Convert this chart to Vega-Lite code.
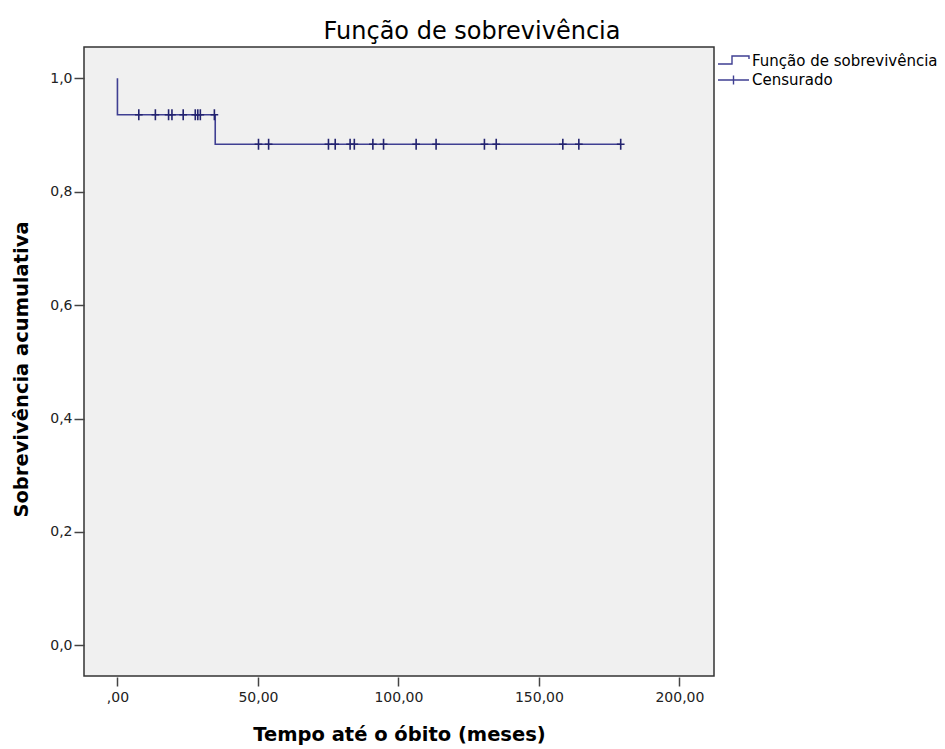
{
  "$schema": "https://vega.github.io/schema/vega-lite/v6.json",
  "autosize": {"type": "none"},
  "width": 630,
  "height": 629,
  "padding": {"left": 84, "top": 47, "right": 231, "bottom": 73},
  "background": "white",
  "config": {
    "font": "DejaVu Sans",
    "view": {"fill": "#f0f0f0", "stroke": "#333333", "strokeWidth": 1.5}
  },
  "title": {
    "text": "Função de sobrevivência",
    "font": "DejaVu Sans",
    "fontSize": 24,
    "fontWeight": "normal",
    "color": "#000000",
    "anchor": "middle",
    "frame": "group",
    "dx": 73,
    "baseline": "alphabetic",
    "offset": -16
  },
  "datasets": {
    "survival": [
      {"tempo": 0, "sobrevivencia": 1.0, "ordem": 0},
      {"tempo": 0, "sobrevivencia": 0.9355, "ordem": 1},
      {"tempo": 34.8, "sobrevivencia": 0.8835, "ordem": 2},
      {"tempo": 179.1, "sobrevivencia": 0.8835, "ordem": 3}
    ],
    "censored": [
      {"tempo": 7.6, "sobrevivencia": 0.9355},
      {"tempo": 13.5, "sobrevivencia": 0.9355},
      {"tempo": 18.2, "sobrevivencia": 0.9355},
      {"tempo": 19.4, "sobrevivencia": 0.9355},
      {"tempo": 23.4, "sobrevivencia": 0.9355},
      {"tempo": 27.7, "sobrevivencia": 0.9355},
      {"tempo": 28.6, "sobrevivencia": 0.9355},
      {"tempo": 29.5, "sobrevivencia": 0.9355},
      {"tempo": 34.5, "sobrevivencia": 0.9355},
      {"tempo": 50.2, "sobrevivencia": 0.8835},
      {"tempo": 53.8, "sobrevivencia": 0.8835},
      {"tempo": 75.1, "sobrevivencia": 0.8835},
      {"tempo": 77.5, "sobrevivencia": 0.8835},
      {"tempo": 82.8, "sobrevivencia": 0.8835},
      {"tempo": 84.3, "sobrevivencia": 0.8835},
      {"tempo": 90.9, "sobrevivencia": 0.8835},
      {"tempo": 94.7, "sobrevivencia": 0.8835},
      {"tempo": 106.3, "sobrevivencia": 0.8835},
      {"tempo": 113.4, "sobrevivencia": 0.8835},
      {"tempo": 130.6, "sobrevivencia": 0.8835},
      {"tempo": 134.8, "sobrevivencia": 0.8835},
      {"tempo": 158.5, "sobrevivencia": 0.8835},
      {"tempo": 164.2, "sobrevivencia": 0.8835},
      {"tempo": 179.1, "sobrevivencia": 0.8835}
    ],
    "legenda": [
      {"tempo": 0, "sobrevivencia": 1.0, "serie": "Função de sobrevivência"},
      {"tempo": 0, "sobrevivencia": 1.0, "serie": "Censurado"}
    ]
  },
  "encoding": {
    "x": {
      "field": "tempo",
      "type": "quantitative",
      "scale": {"domain": [-11.9, 212.3], "nice": false, "zero": false},
      "axis": {
        "title": "Tempo até o óbito (meses)",
        "values": [0, 50, 100, 150, 200],
        "labelExpr": "datum.value == 0 ? ',00' : replace(format(datum.value, '.2f'), '.', ',')",
        "grid": false,
        "domain": false,
        "offset": 1,
        "tickSize": 9,
        "tickWidth": 1.5,
        "tickColor": "#444444",
        "labelFont": "DejaVu Sans",
        "labelFontSize": 14,
        "labelColor": "#222222",
        "labelPadding": 4,
        "titleFont": "DejaVu Sans",
        "titleFontSize": 19.5,
        "titleFontWeight": "bold",
        "titleColor": "#000000",
        "titlePadding": 21
      }
    },
    "y": {
      "field": "sobrevivencia",
      "type": "quantitative",
      "scale": {"domain": [-0.054, 1.055], "nice": false, "zero": false},
      "axis": {
        "title": "Sobrevivência acumulativa",
        "values": [0, 0.2, 0.4, 0.6, 0.8, 1.0],
        "labelExpr": "replace(format(datum.value, '.1f'), '.', ',')",
        "grid": false,
        "domain": false,
        "tickSize": 10,
        "tickWidth": 1.5,
        "tickColor": "#444444",
        "labelFont": "DejaVu Sans",
        "labelFontSize": 14,
        "labelColor": "#222222",
        "labelPadding": 2,
        "titleFont": "DejaVu Sans",
        "titleFontSize": 19.5,
        "titleFontWeight": "bold",
        "titleColor": "#000000",
        "titlePadding": 18,
        "titleY": 322
      }
    }
  },
  "layer": [
    {
      "data": {"name": "survival"},
      "mark": {"type": "line", "interpolate": "step-after", "color": "#3f3f92", "strokeWidth": 1.6},
      "encoding": {
        "order": {"field": "ordem", "type": "quantitative"}
      }
    },
    {
      "data": {"name": "censored"},
      "mark": {"type": "point", "filled": false, "strokeWidth": 1.6, "color": "#23236f", "opacity": 1, "size": 121, "shape": "M-0.7,0H0.7M0,-1V1"}
    },
    {
      "data": {"name": "legenda"},
      "mark": {"type": "point", "filled": false, "opacity": 0, "color": "#3f3f92", "strokeWidth": 1.4},
      "encoding": {
        "shape": {
          "field": "serie",
          "type": "nominal",
          "scale": {
            "domain": ["Função de sobrevivência", "Censurado"],
            "range": ["M-1.55,0.3H-0.15V-0.5H1.55V-0.2", "M-1.55,0H1.55M0,-0.45V0.45"]
          },
          "legend": {
            "title": null,
            "orient": "none",
            "legendX": 638.5,
            "legendY": 3,
            "padding": 0,
            "symbolSize": 400,
            "symbolStrokeColor": "#3f3f92",
            "symbolFillColor": "transparent",
            "symbolStrokeWidth": 1.4,
            "symbolOpacity": 1,
            "labelFont": "DejaVu Sans",
            "labelFontSize": 15,
            "labelColor": "#000000",
            "labelOffset": 7.5,
            "labelLimit": 400,
            "rowPadding": 0
          }
        }
      }
    }
  ]
}
